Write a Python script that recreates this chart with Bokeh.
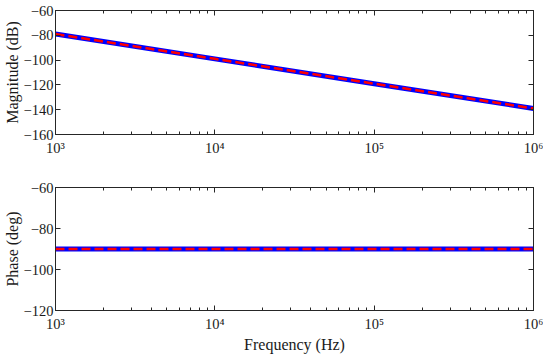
from bokeh.plotting import figure
from bokeh.models import LogAxis, LinearAxis, FixedTicker, CustomJSTickFormatter, Range1d
from bokeh.layouts import column
from bokeh.embed import file_html
from bokeh.resources import INLINE

# Data
freq = [1e3, 1e4, 1e5, 1e6]
magnitude_db = [-79, -99, -119, -139]
phase_deg = [-90, -90, -90, -90]

mag_ticks = [-160, -140, -120, -100, -80, -60]
phase_ticks = [-120, -100, -80, -60]
decades = [1e3, 1e4, 1e5, 1e6]

FONT = "Liberation Serif"
AX = "#262626"

minor_x = [k * d for d in decades[:-1] for k in range(2, 10)]

SUP_CODE = """
const e = Math.round(Math.log10(tick));
const m = {'0':'\u2070','1':'\u00b9','2':'\u00b2','3':'\u00b3','4':'\u2074','5':'\u2075','6':'\u2076','7':'\u2077','8':'\u2078','9':'\u2079','-':'\u207b'};
return '10' + String(e).split('').map(c => m[c]).join('');
"""


def style_axis(ax, show_labels=True):
    ax.axis_line_color = AX
    ax.axis_line_width = 1
    ax.major_tick_line_color = AX
    ax.minor_tick_line_color = AX
    ax.major_tick_in = 5
    ax.major_tick_out = 0
    ax.minor_tick_in = 3
    ax.minor_tick_out = 0
    ax.major_label_text_font = FONT
    ax.major_label_text_color = "#1a1a1a"
    ax.major_label_text_font_size = "14.5px"
    ax.axis_label_text_font = FONT
    ax.axis_label_text_font_style = "normal"
    ax.axis_label_text_font_size = "16px"
    ax.axis_label_text_color = "#1a1a1a"
    if not show_labels:
        ax.formatter = CustomJSTickFormatter(code="return '';")
        ax.major_label_standoff = 0


def make_fig(y, ylo, yhi, yticks, ylabel, xlabel, frame_h, b_top, b_bottom):
    p = figure(x_axis_type="log", x_range=Range1d(1e3, 1e6), y_range=Range1d(ylo, yhi),
               frame_width=478, frame_height=frame_h,
               min_border_left=46, min_border_right=10,
               min_border_top=b_top, min_border_bottom=b_bottom,
               output_backend="svg", toolbar_location=None)
    p.xgrid.visible = False
    p.ygrid.visible = False
    p.outline_line_color = AX
    p.background_fill_color = "white"
    p.border_fill_color = "white"

    p.xaxis.ticker = FixedTicker(ticks=decades, minor_ticks=minor_x)
    p.xaxis.formatter = CustomJSTickFormatter(code=SUP_CODE)
    style_axis(p.xaxis[0])
    p.xaxis.major_label_standoff = 5
    if xlabel:
        p.xaxis.axis_label = xlabel
        p.xaxis.axis_label_standoff = 1

    p.yaxis.ticker = FixedTicker(ticks=yticks, minor_ticks=[])
    style_axis(p.yaxis[0])
    p.yaxis.axis_label = ylabel
    p.yaxis.major_label_standoff = 2
    p.yaxis.axis_label_standoff = 0
    p.yaxis.minor_tick_line_color = None

    top = LogAxis(ticker=FixedTicker(ticks=decades, minor_ticks=minor_x))
    style_axis(top, show_labels=False)
    p.add_layout(top, "above")
    right = LinearAxis(ticker=FixedTicker(ticks=yticks, minor_ticks=[]))
    style_axis(right, show_labels=False)
    right.minor_tick_line_color = None
    p.add_layout(right, "right")

    p.line(freq, y, line_color="#0000ff", line_width=5)
    p.line(freq, y, line_color="#ff0000", line_width=2.5, line_dash="9 4")
    return p


p1 = make_fig(magnitude_db, -160, -60, mag_ticks, "Magnitude (dB)", None, 124, 10, 45)
p2 = make_fig(phase_deg, -120, -60, phase_ticks, "Phase (deg)", "Frequency (Hz)", 123, 8, 0)

layout = column(p1, p2)
open("out.html", "w").write(file_html(layout, INLINE))
